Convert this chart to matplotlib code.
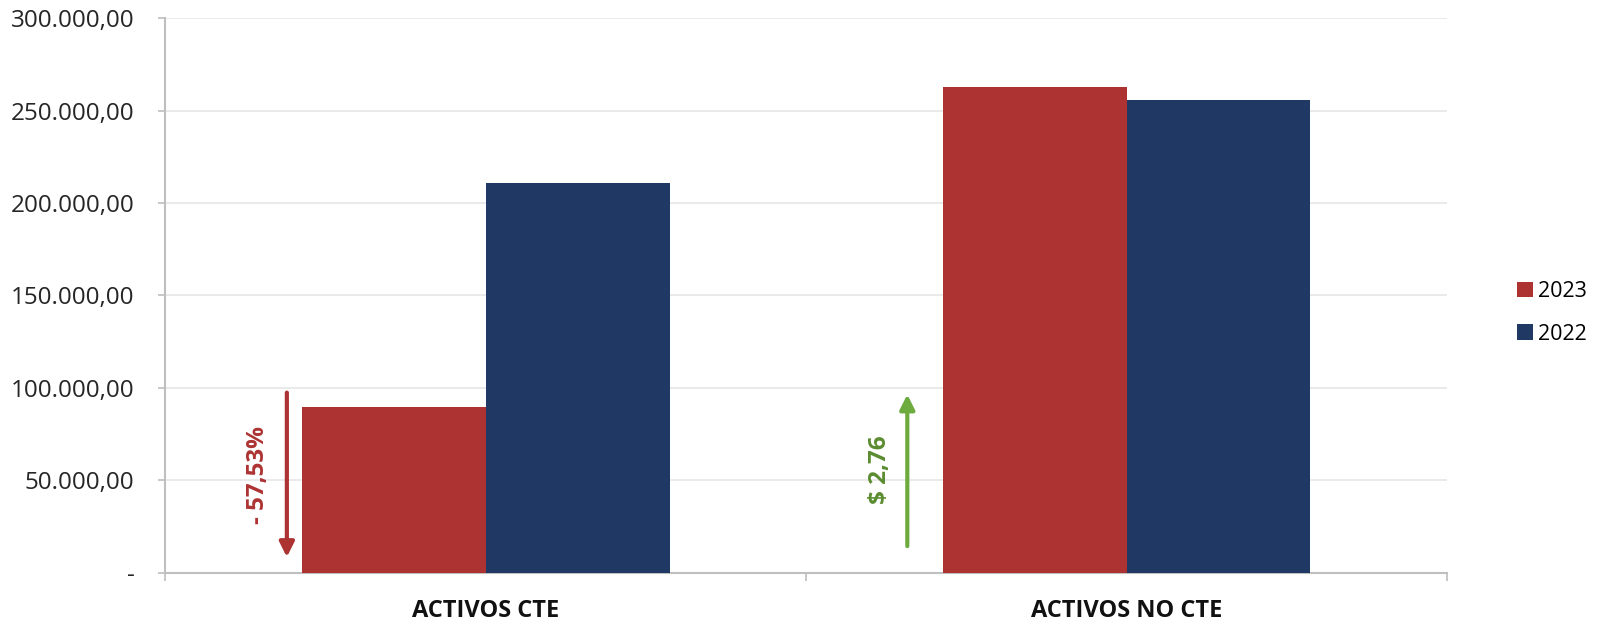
import numpy as np
import matplotlib
matplotlib.use('Agg')
import matplotlib.pyplot as plt
from matplotlib.ticker import FuncFormatter

plt.rcParams['font.family'] = ['Open Sans', 'DejaVu Sans']

########## Data

categorias = ['ACTIVOS CTE', 'ACTIVOS NO CTE']
series = ['2023', '2022']
valores_2023 = [89700, 262700]
valores_2022 = [210800, 255700]
variaciones = ['- 57,53%', '$ 2,76']

colores = ['#AD3333', '#203864']

########## Plot

fig = plt.figure(figsize=(15.98, 6.32), dpi=100)
ax = fig.add_axes([0.1033, 0.0934, 0.8022, 0.8781])

x = np.arange(len(categorias))
w = 0.287
ax.bar(x - w/2, valores_2023, w, color=colores[0], label=series[0], zorder=3)
ax.bar(x + w/2, valores_2022, w, color=colores[1], label=series[1], zorder=3)

ax.set_xlim(-0.5, 1.5)
ax.set_ylim(0, 300000)
ax.set_yticks(np.arange(0, 300001, 50000))

def fmt(v, pos):
    if v == 0:
        return '-'
    return '{:,.2f}'.format(v).replace(',', 'X').replace('.', ',').replace('X', '.')

ax.yaxis.set_major_formatter(FuncFormatter(fmt))
ax.grid(axis='y', color='#e6e6e6', linewidth=1.2, zorder=0)

ax.set_xticks(x)
ax.set_xticklabels(categorias, fontsize=17, fontweight='bold', color='#111111')
ax.set_xticks([-0.5, 0.5, 1.5], minor=True)
ax.tick_params(axis='x', which='major', length=0, pad=19)
ax.tick_params(axis='x', which='minor', length=6, color='#bfbfbf', width=1.2)
ax.tick_params(axis='y', length=5, color='#bfbfbf', width=1.2, labelsize=17.5,
               labelcolor='#262626', pad=17)

for s in ['top', 'right']:
    ax.spines[s].set_visible(False)
ax.spines['left'].set_color('#bfbfbf')
ax.spines['bottom'].set_color('#bfbfbf')
ax.spines['left'].set_linewidth(1.5)
ax.spines['bottom'].set_linewidth(1.5)

# flechas de variacion
ax.annotate('', xy=(-0.31, 8600), xytext=(-0.31, 97500),
            arrowprops=dict(arrowstyle='-|>', color='#AD3333', lw=3,
                            mutation_scale=22, shrinkA=0, shrinkB=0), zorder=4)
ax.text(-0.355, 53000, variaciones[0], rotation=90, ha='center', va='center',
        color='#AD3333', fontsize=17.5, fontweight='bold')

ax.annotate('', xy=(0.658, 96500), xytext=(0.658, 14500),
            arrowprops=dict(arrowstyle='-|>', color='#6EAB3E', lw=3,
                            mutation_scale=22, shrinkA=0, shrinkB=0), zorder=4)
ax.text(0.615, 56000, variaciones[1], rotation=90, ha='center', va='center',
        color='#5B8C30', fontsize=17.5, fontweight='bold')

leg = fig.legend(loc='center left', bbox_to_anchor=(0.937, 0.505), frameon=False,
                 fontsize=15.5, handlelength=0.75, handleheight=0.75,
                 handletextpad=0.25, labelspacing=1.0)

plt.savefig('out.png', dpi=100)
